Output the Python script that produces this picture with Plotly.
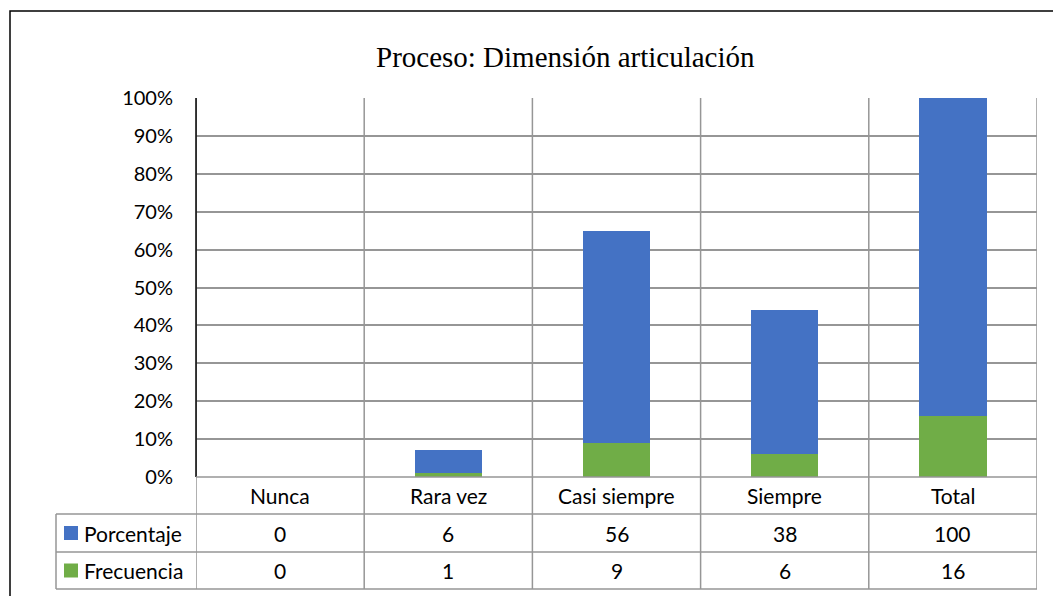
import plotly.graph_objects as go

categories = ["Nunca", "Rara vez", "Casi siempre", "Siempre", "Total"]
porcentaje = [0, 6, 56, 38, 100]
frecuencia = [0, 1, 9, 6, 16]
series_names = ["Porcentaje", "Frecuencia"]
title_text = "Proceso: Dimensión articulación"
ytick_vals = list(range(0, 101, 10))
ytick_text = [f"{v}%" for v in ytick_vals]

BLUE = "#4472C4"
GREEN = "#70AD47"
GRID = "#969696"
W, H = 1053, 596
FONT = "Lato"
FS = 21


def xp(px):
    return px / W


def yp(py):
    return 1 - py / H


# layout geometry (pixels)
PL, PR, PT, PB = 196, 1037, 98, 477
ROW1, ROW2, ROW3 = 514, 552, 589
TL = 56

fig = go.Figure()
fig.add_trace(go.Bar(x=categories, y=frecuencia, name=series_names[1],
                     marker=dict(color=GREEN, line=dict(width=0))))
fig.add_trace(go.Bar(x=categories, y=porcentaje, name=series_names[0],
                     marker=dict(color=BLUE, line=dict(width=0))))

shapes = []
n = len(categories)
# vertical category boundaries (grid + table)
for i in range(n + 1):
    shapes.append(dict(type="line", xref="x", yref="paper", x0=i - 0.5, x1=i - 0.5,
                       y0=yp(ROW3), y1=yp(PT), line=dict(color=GRID, width=1.5)))
# left axis line (black) over plot area
shapes.append(dict(type="line", xref="paper", yref="paper", x0=xp(PL), x1=xp(PL),
                   y0=yp(PB), y1=yp(PT), line=dict(color="black", width=1.5)))
# table horizontals
for py, x0 in [(PB, PL), (ROW1, TL), (ROW2, TL), (ROW3, TL)]:
    shapes.append(dict(type="line", xref="paper", yref="paper", x0=xp(x0), x1=xp(PR),
                       y0=yp(py), y1=yp(py), line=dict(color=GRID, width=1.5)))
# table left edge
shapes.append(dict(type="line", xref="paper", yref="paper", x0=xp(TL), x1=xp(TL),
                   y0=yp(ROW3), y1=yp(ROW1), line=dict(color=GRID, width=1.5)))
# legend keys
for color, (top, bot) in [(BLUE, (ROW1, ROW2)), (GREEN, (ROW2, ROW3))]:
    cy = (top + bot) / 2
    shapes.append(dict(type="rect", xref="paper", yref="paper", x0=xp(64), x1=xp(78),
                       y0=yp(cy + 7), y1=yp(cy - 7), fillcolor=color, line=dict(width=0)))
# outer frame
shapes.append(dict(type="rect", xref="paper", yref="paper", x0=xp(10), x1=xp(W + 20),
                   y0=yp(H + 20), y1=yp(11), line=dict(color="black", width=1.5)))

annotations = []
annotations.append(dict(text=title_text, xref="paper", yref="paper", x=xp(565.5), y=yp(57),
                        showarrow=False, xanchor="center", yanchor="middle",
                        font=dict(family="Liberation Serif", size=29, color="black")))
rows = [(categories, PB, ROW1), (porcentaje, ROW1, ROW2), (frecuencia, ROW2, ROW3)]
for vals, top, bot in rows:
    for c, v in zip(categories, vals):
        annotations.append(dict(text=str(v), xref="x", yref="paper", x=c, y=yp((top + bot) / 2),
                                showarrow=False, xanchor="center", yanchor="middle",
                                font=dict(family=FONT, size=FS, color="black")))
for name, (top, bot) in zip(series_names, [(ROW1, ROW2), (ROW2, ROW3)]):
    annotations.append(dict(text=name, xref="paper", yref="paper", x=xp(82), y=yp((top + bot) / 2),
                            showarrow=False, xanchor="left", yanchor="middle",
                            font=dict(family=FONT, size=FS, color="black")))

fig.update_layout(
    width=W, height=H,
    margin=dict(l=0, r=0, t=0, b=0),
    paper_bgcolor="white", plot_bgcolor="white",
    barmode="stack", bargap=0.6, showlegend=False,
    xaxis=dict(domain=[xp(PL), xp(PR)], range=[-0.5, n - 0.5], showticklabels=False,
               showgrid=False, zeroline=False, showline=False, ticks=""),
    yaxis=dict(domain=[yp(PB), yp(PT)], range=[0, 100], tickvals=ytick_vals, ticktext=ytick_text,
               showgrid=True, gridcolor=GRID, gridwidth=1.5, zeroline=False, showline=False,
               ticks="", ticklabelstandoff=22, automargin=False,
               tickfont=dict(family=FONT, size=20, color="black")),
    shapes=shapes, annotations=annotations,
)
fig.write_html("out.html", config={"displayModeBar": False},
               post_script="document.body.style.margin='0';document.body.style.overflow='hidden';")
